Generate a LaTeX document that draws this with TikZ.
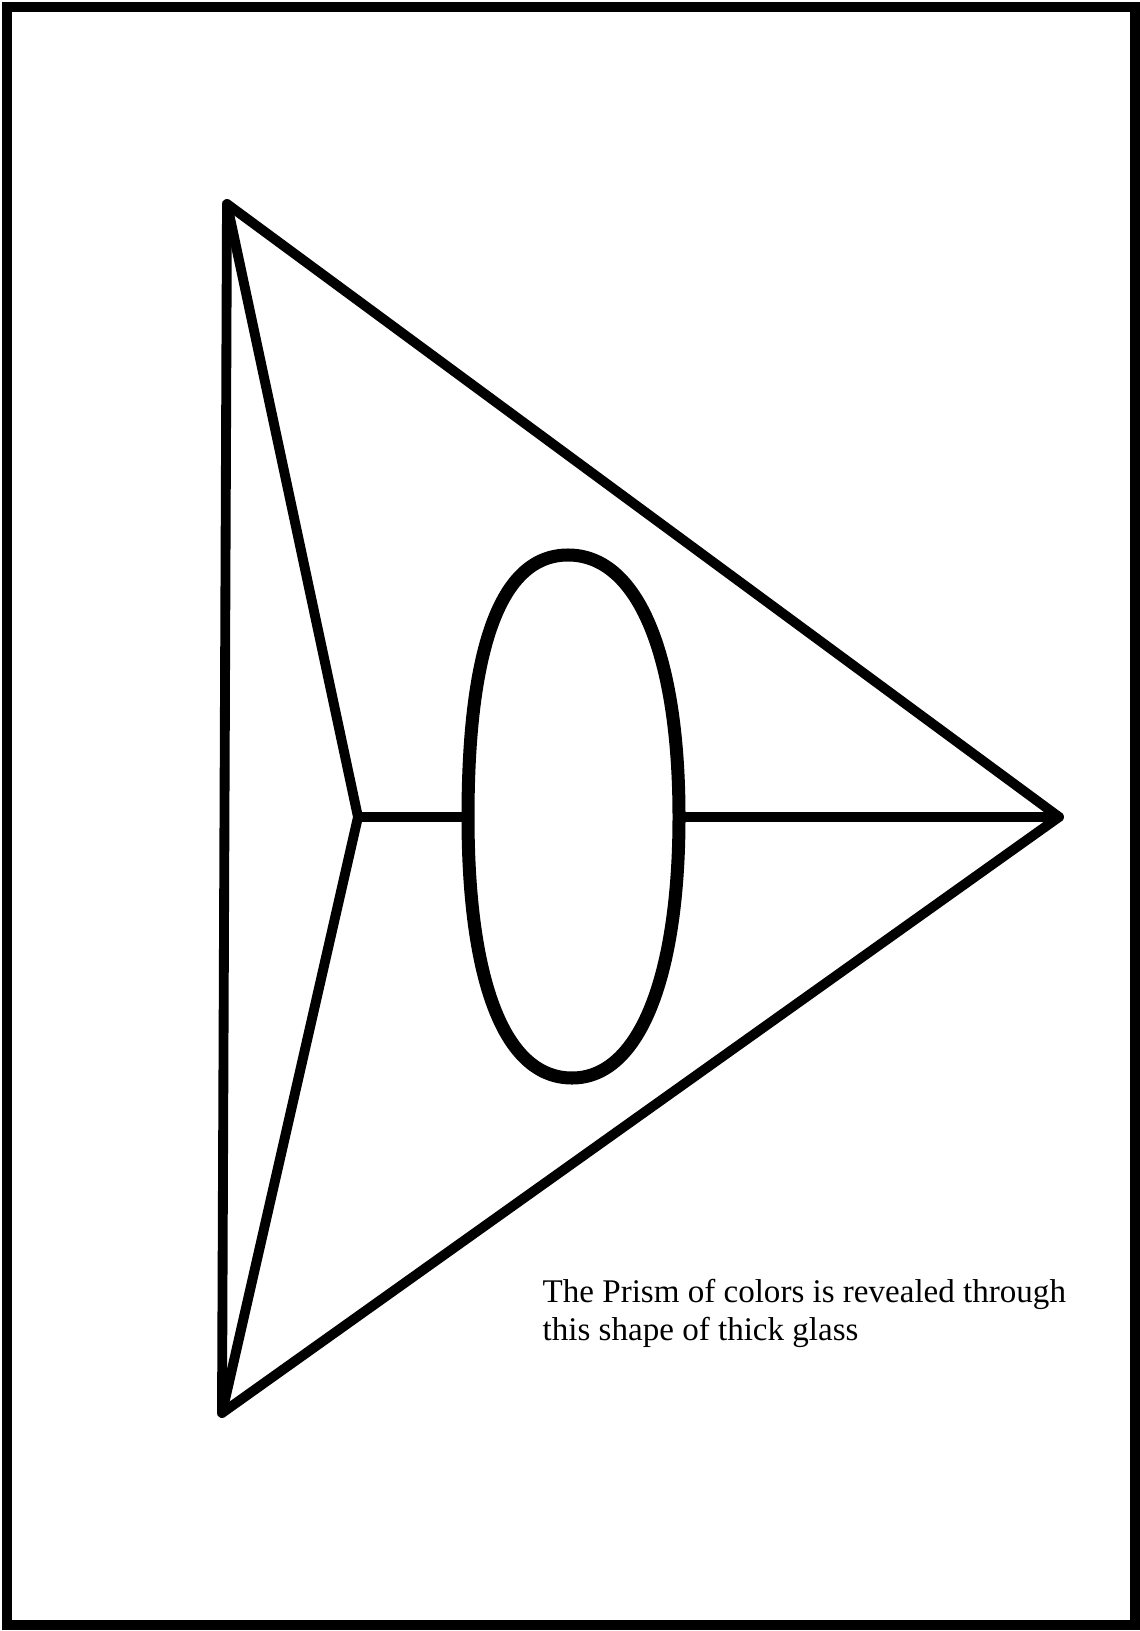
\documentclass[tikz,border=0pt]{standalone}
\usepackage{fontspec}
\setmainfont{Liberation Serif}
\usetikzlibrary{positioning}

\begin{document}
\begin{tikzpicture}[
		x=0.01cm,y=-0.01cm,
		frame/.style={line width=2.8pt},
		prism/.style={line width=2.8pt,line join=round,line cap=round},
		lens/.style={line width=3.7pt,line join=round},
		caption/.style={font=\fontsize{9.4}{10.6}\selectfont,align=left,inner sep=0pt,anchor=north west}
		]
		
		% Page and frame
		\useasboundingbox (0,0) rectangle (1139,1631);
		\fill[white] (0,0) rectangle (1139,1631);
		\draw[frame] (7,7) rectangle (1135,1625);
		
		% Corners of the prism
		\coordinate (topleft) at (227,204);
		\coordinate (bottomleft) at (222,1413);
		\coordinate (tip) at (1059,817);
		\coordinate (hub) at (358,817);
		
		% Points of the glass
		\coordinate (lenstop) at (568,555);
		\coordinate (lensright) at (679,817);
		\coordinate (lensbottom) at (572,1078);
		\coordinate (lensleft) at (468,817);
		
		% Outer triangle
		\draw[prism] (topleft) -- (tip) -- (bottomleft) -- cycle;
		
		% Inner edges
		\draw[prism] (topleft) -- (hub) -- (bottomleft);
		\draw[prism] (hub) -- (lensleft);
		\draw[prism] (lensright) -- (tip);
		
		% Thick glass
		\draw[lens] (lenstop)
			.. controls (638,555) and (679,655) .. (lensright)
			.. controls (679,975) and (640,1078) .. (lensbottom)
			.. controls (502,1078) and (468,975) .. (lensleft)
			.. controls (468,655) and (498,555) .. (lenstop) -- cycle;
		
		% Caption
		\node[caption] (note) at (542,1279) {The Prism of colors is revealed through\\this shape of thick glass};
		
	\end{tikzpicture}
\end{document}
